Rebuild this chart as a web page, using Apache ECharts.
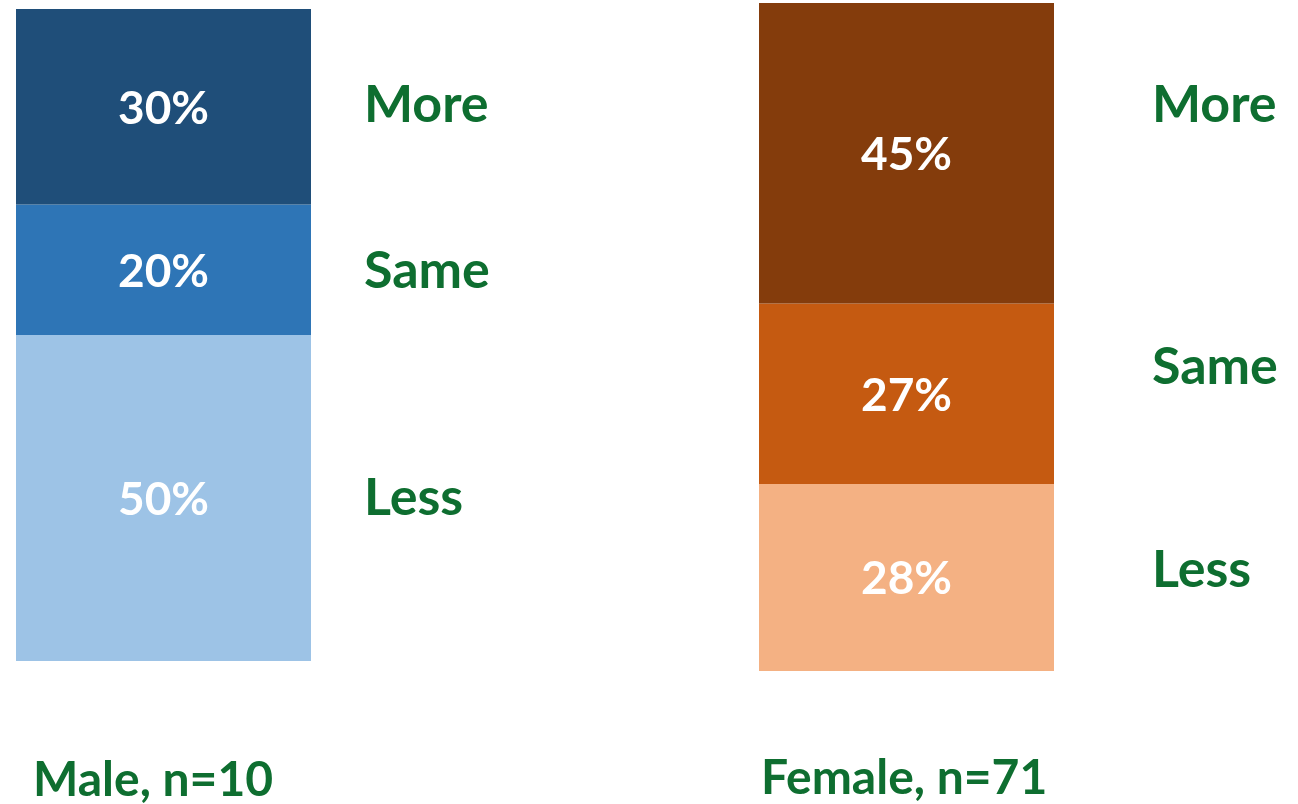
<!DOCTYPE html>
<html><head><meta charset="utf-8">
<script src="https://cdn.jsdelivr.net/npm/echarts@6/dist/echarts.min.js"></script>
<style>html,body{margin:0;padding:0;background:#fff}#c{width:1298px;height:804px}</style>
</head><body><div id="c"></div>
<script>
const categories = ['Less', 'Same', 'More'];
const maleValues = [50, 20, 30];
const femaleValues = [28, 27, 45];
const groupLabels = ['Male, n=10', 'Female, n=71'];
const maleColors = ['#9DC3E6', '#2E75B6', '#1F4E79'];
const femaleColors = ['#F4B183', '#C55A11', '#843C0C'];
const GREEN = '#0E6E30';
const FONT = 'Lato';

const chart = echarts.init(document.getElementById('c'));
const grids = [
  {left: 16, top: 9, width: 295, height: 652},
  {left: 759, top: 3, width: 295, height: 668}
];
function mkSeries(vals, colors, gi) {
  return categories.map((c, i) => ({
    type: 'bar', name: c, stack: 's' + gi, xAxisIndex: gi, yAxisIndex: gi,
    barWidth: '100%', data: [vals[i]],
    itemStyle: {color: colors[i]},
    label: {show: true, position: 'inside', formatter: '{c}%', color: '#fff',
      fontFamily: FONT, fontWeight: 'bold', fontSize: 46, offset: [0, 2]},
    silent: true
  }));
}
const option = {
  animation: false,
  grid: grids,
  xAxis: [0, 1].map(i => ({type: 'category', gridIndex: i, data: [''], show: false})),
  yAxis: [0, 1].map(i => ({type: 'value', gridIndex: i, min: 0, max: 100, show: false})),
  series: [...mkSeries(maleValues, maleColors, 0), ...mkSeries(femaleValues, femaleColors, 1)]
};
chart.setOption(option);

// side category labels positioned from data via the axes
const maleOffsets = [0, 1, -2];
const femaleOffsets = [-7, -27, -48];
const graphics = [];
function addSide(vals, gi, x, offsets) {
  let cum = 0;
  vals.forEach((v, i) => {
    const mid = cum + v / 2; cum += v;
    const y = chart.convertToPixel({yAxisIndex: gi}, mid) + offsets[i];
    graphics.push({type: 'text', x: x, y: y, style: {text: categories[i],
      fill: GREEN, font: 'bold 52px ' + FONT, textVerticalAlign: 'middle', textAlign: 'left'}});
  });
}
addSide(maleValues, 0, 364, maleOffsets);
addSide(femaleValues, 1, 1152, femaleOffsets);
graphics.push({type: 'text', x: 33, y: 781, style: {text: groupLabels[0], fill: GREEN, font: 'bold 48px ' + FONT, textVerticalAlign: 'middle'}});
graphics.push({type: 'text', x: 761, y: 779, style: {text: groupLabels[1], fill: GREEN, font: 'bold 48px ' + FONT, textVerticalAlign: 'middle'}});
chart.setOption({graphic: graphics});
</script></body></html>
